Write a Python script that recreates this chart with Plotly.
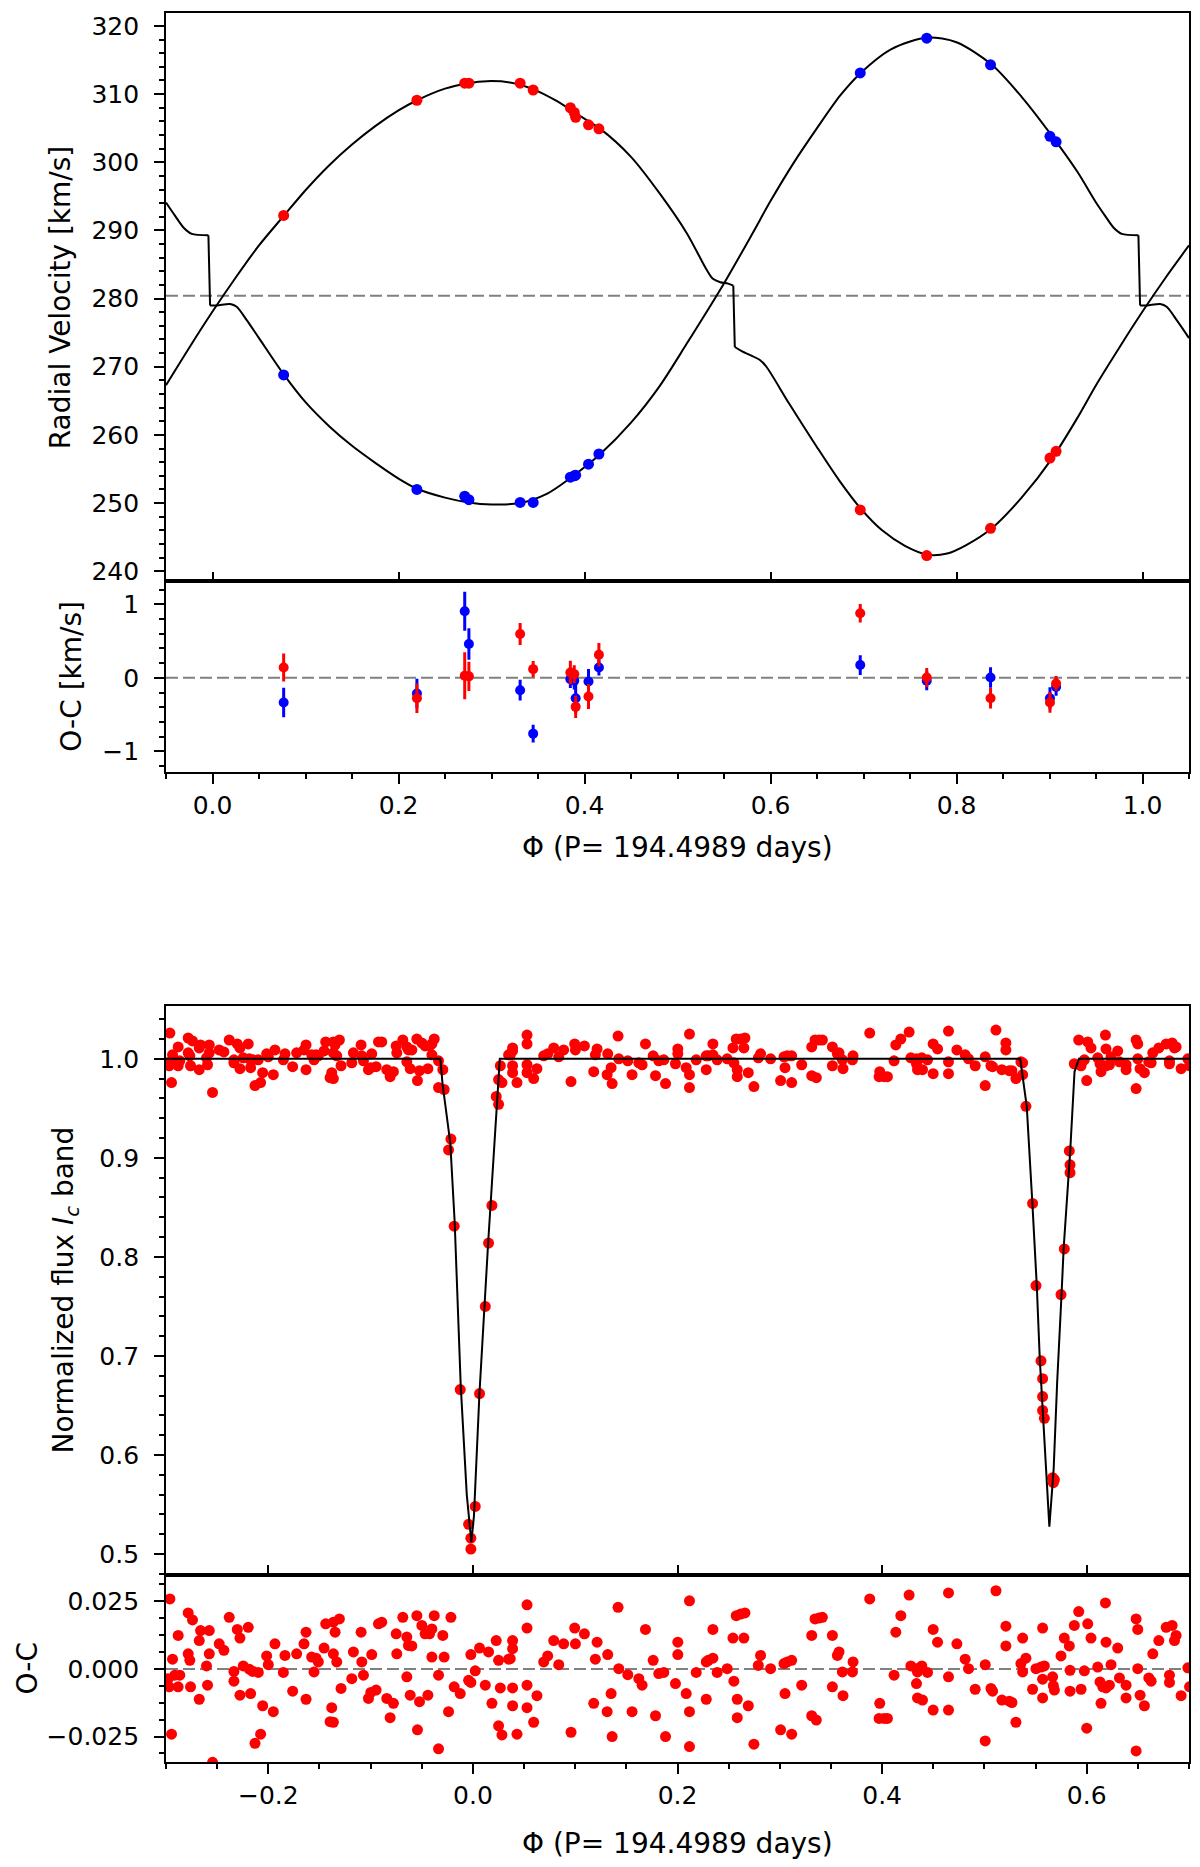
import plotly.graph_objects as go

# ---------------- radial velocities ----------------
rv_phase = [0.0765, 0.2198, 0.2712, 0.2757, 0.3308, 0.3448, 0.3848, 0.3890,
            0.3905, 0.4043, 0.4155, 0.6965, 0.7680, 0.8366, 0.9005, 0.9071]
rv_primary = [292.2, 309.1, 311.6, 311.6, 311.6, 310.6, 308.0, 307.3,
              306.6, 305.5, 304.9, 249.0, 242.3, 246.3, 256.6, 257.6]
rv_secondary = [268.8, 252.0, 251.0, 250.5, 250.1, 250.1, 253.8, 254.0,
                254.1, 255.7, 257.2, 313.1, 318.2, 314.3, 303.8, 303.0]

oc_primary = [0.141, -0.277, 0.027, 0.020, 0.595, 0.118, 0.073, 0.050,
              -0.395, -0.255, 0.314, 0.877, 0.005, -0.277, -0.336, -0.077]
oc_primary_err = [0.19, 0.20, 0.32, 0.20, 0.15, 0.11, 0.16, 0.12,
                  0.15, 0.17, 0.16, 0.125, 0.13, 0.14, 0.14, 0.10]
oc_secondary = [-0.336, -0.214, 0.905, 0.459, -0.168, -0.759, -0.018, -0.040,
                -0.277, -0.050, 0.141, 0.173, -0.040, 0.005, -0.277, -0.123]
oc_secondary_err = [0.20, 0.20, 0.265, 0.215, 0.14, 0.12, 0.12, 0.12,
                    0.20, 0.17, 0.11, 0.135, 0.13, 0.14, 0.15, 0.12]

gamma = 280.4

model_phase_primary = [-0.05, -0.025, 0.0, 0.025, 0.05, 0.077, 0.10, 0.125, 0.15, 0.175,
                       0.20, 0.22, 0.25, 0.275, 0.295, 0.32, 0.345, 0.37, 0.395, 0.417,
                       0.45, 0.481, 0.51, 0.531, 0.538, 0.546, 0.5545, 0.560, 0.5616, 0.569,
                       0.5886, 0.5956, 0.62, 0.65, 0.674, 0.697, 0.72, 0.745, 0.77, 0.79,
                       0.81, 0.838, 0.87, 0.903, 0.93, 0.95, 0.975, 1.0, 1.025, 1.05]
model_rv_primary = [267.3, 272.8, 278.1, 283.1, 287.8, 292.2, 295.9, 299.5, 302.6, 305.3,
                    307.6, 309.1, 310.8, 311.6, 311.9, 311.7, 310.7, 309.0, 306.8, 304.9,
                    300.8, 295.4, 289.6, 284.3, 282.9, 282.4, 282.2, 281.9, 272.9, 272.3,
                    271.0, 270.0, 264.6, 258.2, 253.3, 249.2, 246.0, 243.7, 242.4, 242.6,
                    243.8, 246.3, 250.8, 256.6, 262.5, 267.3, 272.8, 278.1, 283.1, 287.8]

model_phase_secondary = [-0.05, -0.04, -0.031, -0.0224, -0.0044, -0.0026, 0.005, 0.019, 0.026, 0.037,
                         0.05, 0.077, 0.10, 0.126, 0.15, 0.175, 0.20, 0.22, 0.25, 0.275,
                         0.30, 0.33, 0.36, 0.384, 0.417, 0.45, 0.481, 0.51, 0.549, 0.58,
                         0.60, 0.6244, 0.65, 0.675, 0.697, 0.73, 0.769, 0.80, 0.838, 0.87,
                         0.903, 0.93, 0.95, 0.96, 0.969, 0.9776, 0.9956, 0.9974, 1.005, 1.019,
                         1.026, 1.037, 1.05]
model_rv_secondary = [294.1, 292.1, 290.4, 289.5, 289.3, 279.0, 279.0, 279.2, 278.8, 276.8,
                      274.2, 268.8, 264.8, 261.2, 258.4, 255.9, 253.6, 252.1, 250.8, 250.1,
                      249.8, 250.0, 251.4, 253.6, 257.2, 261.8, 267.2, 273.4, 282.0, 289.4,
                      294.3, 299.8, 305.0, 309.8, 313.1, 316.6, 318.3, 317.6, 314.3, 309.6,
                      303.8, 298.6, 294.1, 292.1, 290.4, 289.5, 289.3, 279.0, 279.0, 279.2,
                      278.8, 276.8, 274.2]

# ---------------- Ic light curve ----------------
lc_phase = [
    -0.2962, -0.2936, -0.2979, -0.2969, -0.2881, -0.2865, -0.2914, -0.2946, -0.2881, -0.2783,
    -0.2767, -0.2783, -0.2741, -0.2675, -0.2662, -0.2577, -0.2577, -0.2604, -0.2594, -0.2760,
    -0.2675, -0.2545, -0.2480, -0.2434, -0.2382, -0.2336, -0.2336, -0.2303, -0.2277, -0.2196,
    -0.2245, -0.2186, -0.2098, -0.2153, -0.2277, -0.2173, -0.2130, -0.2075, -0.2055, -0.2016,
    -0.2000, -0.1935, -0.1951, -0.1853, -0.1837, -0.1762, -0.1723, -0.1651, -0.1631, -0.1631,
    -0.1576, -0.1553, -0.1533, -0.1511, -0.1455, -0.1439, -0.1364, -0.1305, -0.1347, -0.1380,
    -0.1396, -0.1364, -0.1364, -0.1331, -0.1289, -0.1184, -0.1168, -0.1093, -0.1086, -0.1070,
    -0.1021, -0.0998, -0.0946, -0.0989, -0.0923, -0.0891, -0.0842, -0.0777, -0.0809, -0.0750,
    -0.0744, -0.0685, -0.0646, -0.0630, -0.0597, -0.0646, -0.0613, -0.0548, -0.0499, -0.0467,
    -0.0424, -0.0401, -0.0542, -0.0522, -0.0440, -0.0401, -0.0378, -0.0294, -0.0281, -0.0336,
    -0.0336, -0.0238, -0.0215, -0.0183, -0.0124, -0.0042, -0.0020, -0.0020, 0.0023, 0.0065,
    0.0153, 0.0121, 0.0186, 0.0228, 0.0251, 0.0268, 0.0251, 0.0284, 0.0349, 0.0365,
    0.0388, 0.0388, 0.0388, 0.0388, 0.0431, 0.0529, 0.0529, 0.0529, 0.0529, 0.0594,
    0.0626, 0.0692, 0.0731, 0.0790, 0.0839, 0.0887, 0.0959, 0.0995, 0.1002, 0.1090,
    0.1181, 0.1197, 0.1214, 0.1312, 0.1318, 0.1351, 0.1361, 0.1419, 0.1426, 0.1514,
    0.1556, 0.1622, 0.1654, 0.1687, 0.1762, 0.1785, 0.1817, 0.1866, 0.1883, 0.1980,
    0.2003, 0.2003, 0.2117, 0.2183, 0.2085, 0.2117, 0.2117, 0.2281, 0.2300, 0.2346,
    0.2346, 0.2281, 0.2388, 0.2486, 0.2542, 0.2649, 0.2574, 0.2617, 0.2659, 0.2551,
    0.2584, 0.2584, 0.2692, 0.2747, 0.2790, 0.2812, 0.2910, 0.3008, 0.3041, 0.3073,
    0.3116, 0.3051, 0.3116, 0.3214, 0.3312, 0.3344, 0.3383, 0.3416, 0.3312, 0.3357,
    0.3514, 0.3563, 0.3579, 0.3514, 0.3612, 0.3710, 0.3716, 0.3618, 0.3879, 0.3977,
    0.3971, 0.4020, 0.4052, 0.4117, 0.4134, 0.4183, 0.4264, 0.4281, 0.4336, 0.4388,
    0.4444, 0.4346, 0.4336, 0.4346, 0.4395, 0.4499, 0.4542, 0.4499, 0.4649, 0.4649,
    0.4649, 0.4731, 0.4812, 0.4845, 0.4910, 0.5008, 0.5008, 0.5064, 0.5080, 0.5113,
    0.5171, 0.5243, 0.5269, 0.5210, 0.5210, 0.5308, 0.5357, 0.5374, 0.5406, 0.5374,
    0.5471, 0.5504, 0.5553, 0.5586, 0.5569, 0.5569, 0.5569, 0.5667, 0.5674, 0.5684,
    0.5749, 0.5781, 0.5830, 0.5837, 0.5837, 0.5879, 0.5922, 0.5945, 0.5977, 0.6000,
    0.6010, 0.6042, 0.6108, 0.6140, 0.6130, 0.6157, 0.6189, 0.6222, 0.6183, 0.6189,
    0.6238, 0.6303, 0.6320, 0.6385, 0.6385, 0.6483, 0.6499, 0.6483, 0.6499, 0.6522,
    0.6564, 0.6607, 0.6630, 0.6646, 0.6705, 0.6777, 0.6835, 0.6874, 0.6858, 0.6809,
    0.6809, 0.6923, 0.6989, 0.7005,
]
lc_flux = [
    1.026, 1.004, 0.996, 0.993, 0.993, 0.998, 0.998, 0.976, 1.012, 1.006,
    1.003, 1.021, 1.018, 1.011, 1.014, 1.014, 1.006, 1.001, 0.994, 0.993,
    0.989, 0.966, 1.009, 1.007, 1.019, 0.999, 0.996, 1.015, 1.011, 1.015,
    1.001, 1.000, 0.999, 0.999, 0.990, 0.991, 0.973, 0.976, 0.986, 1.005,
    1.002, 1.009, 0.984, 0.999, 1.005, 0.992, 1.006, 1.009, 1.014, 0.989,
    1.004, 0.999, 1.004, 1.003, 1.008, 1.017, 1.017, 1.019, 1.014, 0.986,
    0.981, 0.980, 1.006, 1.003, 0.993, 0.996, 1.006, 1.014, 1.003, 0.998,
    0.989, 0.991, 0.992, 1.005, 1.017, 1.017, 0.989, 0.987, 0.982, 1.013,
    1.006, 1.019, 1.012, 1.009, 1.009, 0.997, 0.990, 1.020, 1.016, 1.013,
    1.013, 1.015, 0.978, 0.988, 0.990, 1.004, 1.020, 0.989, 0.969, 0.998,
    0.971, 0.908, 0.919, 0.831, 0.666, 0.530, 0.505, 0.516, 0.548, 0.662,
    0.814, 0.750, 0.852, 0.962, 0.979, 0.993, 0.954, 0.976, 1.004, 1.004,
    1.011, 1.008, 0.993, 0.986, 0.976, 1.024, 1.015, 0.994, 0.986, 0.980,
    0.990, 1.003, 1.005, 1.011, 1.002, 1.009, 0.977, 1.015, 1.009, 1.013,
    0.987, 1.004, 1.010, 0.984, 1.005, 0.991, 0.975, 1.023, 1.000, 0.998,
    0.984, 0.996, 0.994, 1.015, 1.003, 0.983, 0.998, 0.999, 0.975, 0.995,
    1.010, 1.005, 1.025, 0.999, 0.991, 0.984, 0.971, 1.003, 1.003, 1.004,
    1.015, 0.989, 0.999, 1.000, 1.011, 1.011, 1.020, 1.020, 1.021, 0.996,
    0.989, 0.982, 0.986, 0.972, 1.001, 1.005, 1.000, 0.978, 1.002, 1.003,
    1.003, 0.991, 0.976, 0.994, 1.012, 1.019, 1.019, 1.019, 0.983, 0.981,
    1.012, 1.005, 1.006, 0.993, 0.999, 0.999, 1.003, 0.990, 1.026, 0.987,
    0.982, 0.982, 0.982, 0.998, 1.014, 1.020, 1.027, 1.001, 1.000, 1.001,
    0.999, 0.999, 0.995, 0.989, 0.989, 1.015, 1.010, 0.985, 1.028, 0.997,
    0.985, 1.009, 1.004, 1.000, 0.993, 1.002, 0.973, 0.993, 0.992, 1.029,
    0.989, 0.988, 0.988, 1.016, 1.009, 0.980, 0.997, 0.984, 0.952, 0.996,
    0.854, 0.771, 0.695, 0.637, 0.677, 0.659, 0.645, 0.577, 0.572, 0.575,
    0.762, 0.808, 0.907, 0.893, 0.885, 0.995, 1.019, 0.993, 0.999, 0.978,
    1.017, 1.011, 1.001, 0.987, 0.995, 0.993, 0.993, 0.994, 1.024, 1.010,
    1.002, 1.008, 0.997, 0.994, 0.989, 1.019, 1.015, 0.970, 1.000, 0.990,
    0.986, 0.997, 0.996, 1.006, 1.011, 1.015, 1.016, 1.012, 1.011, 0.998,
    0.995, 0.990, 1.000, 0.993,
]
lc_oc = [
    0.0259, 0.0036, -0.0036, -0.0066, -0.0066, -0.0023, -0.0023, -0.0241, 0.0124, 0.0056,
    0.0032, 0.0207, 0.0181, 0.0105, 0.0142, 0.0142, 0.0056, 0.0011, -0.0060, -0.0066,
    -0.0112, -0.0345, 0.0093, 0.0069, 0.0191, -0.0009, -0.0045, 0.0146, 0.0114, 0.0154,
    0.0011, -0.0001, -0.0013, -0.0009, -0.0097, -0.0091, -0.0275, -0.0241, -0.0136, 0.0048,
    0.0016, 0.0093, -0.0158, -0.0013, 0.0050, -0.0082, 0.0056, 0.0093, 0.0136, -0.0112,
    0.0044, -0.0011, 0.0040, 0.0026, 0.0077, 0.0167, 0.0173, 0.0185, 0.0136, -0.0143,
    -0.0195, -0.0197, 0.0056, 0.0026, -0.0072, -0.0036, 0.0063, 0.0136, 0.0026, -0.0023,
    -0.0109, -0.0087, -0.0078, 0.0053, 0.0167, 0.0173, -0.0109, -0.0127, -0.0180, 0.0130,
    0.0056, 0.0191, 0.0118, 0.0087, 0.0085, -0.0029, -0.0097, 0.0197, 0.0161, 0.0130,
    0.0130, 0.0148, -0.0225, -0.0121, -0.0097, 0.0044, 0.0197, 0.0124, 0.0044, -0.0023,
    -0.0295, -0.0158, 0.0191, -0.0066, -0.0091, -0.0042, -0.0050, 0.0053, -0.0007, 0.0077,
    0.0063, -0.0060, -0.0127, 0.0105, 0.0032, -0.0070, -0.0210, -0.0244, 0.0036, 0.0038,
    0.0105, 0.0075, -0.0070, -0.0136, -0.0241, 0.0237, 0.0151, -0.0060, -0.0143, -0.0197,
    -0.0099, 0.0026, 0.0048, 0.0105, 0.0016, 0.0093, -0.0234, 0.0151, 0.0093, 0.0130,
    -0.0127, 0.0036, 0.0099, -0.0158, 0.0053, -0.0091, -0.0250, 0.0228, 0.0001, -0.0021,
    -0.0158, -0.0036, -0.0060, 0.0146, 0.0032, -0.0173, -0.0017, -0.0013, -0.0250, -0.0054,
    0.0099, 0.0053, 0.0252, -0.0013, -0.0091, -0.0158, -0.0287, 0.0026, 0.0032, 0.0040,
    0.0146, -0.0112, -0.0013, 0.0001, 0.0114, 0.0114, 0.0197, 0.0203, 0.0207, -0.0045,
    -0.0112, -0.0180, -0.0136, -0.0278, 0.0013, 0.0050, 0.0001, -0.0225, 0.0020, 0.0026,
    0.0032, -0.0091, -0.0241, -0.0060, 0.0124, 0.0185, 0.0188, 0.0191, -0.0173, -0.0189,
    0.0124, 0.0050, 0.0063, -0.0066, -0.0011, -0.0011, 0.0026, -0.0099, 0.0259, -0.0127,
    -0.0183, -0.0183, -0.0183, -0.0023, 0.0136, 0.0197, 0.0273, 0.0011, 0.0001, 0.0011,
    -0.0013, -0.0011, -0.0054, -0.0107, -0.0115, 0.0146, 0.0099, -0.0152, 0.0281, -0.0029,
    -0.0152, 0.0093, 0.0036, 0.0001, -0.0075, 0.0016, -0.0266, -0.0072, -0.0082, 0.0289,
    -0.0115, -0.0119, -0.0124, 0.0158, 0.0085, -0.0197, 0.0020, -0.0011, 0.0040, 0.0114,
    -0.0075, 0.0001, 0.0007, 0.0011, 0.0151, -0.0038, -0.0107, -0.0029, -0.0062, -0.0078,
    0.0048, 0.0114, 0.0085, -0.0005, -0.0082, 0.0161, 0.0212, -0.0075, -0.0007, -0.0219,
    0.0167, 0.0114, 0.0007, -0.0127, -0.0048, -0.0066, -0.0070, -0.0060, 0.0244, 0.0099,
    0.0016, 0.0077, -0.0033, -0.0060, -0.0107, 0.0185, 0.0146, -0.0303, 0.0001, -0.0097,
    -0.0136, -0.0033, -0.0045, 0.0056, 0.0105, 0.0154, 0.0161, 0.0124, 0.0105, -0.0023,
    -0.0050, -0.0099, 0.0004, -0.0066,
]
assert len(lc_phase) == len(lc_flux) == len(lc_oc), (len(lc_phase), len(lc_flux), len(lc_oc))

lc_model_phase = [-0.30, -0.0318, -0.0297, -0.0270, -0.0221, -0.0178, -0.0119, -0.0060, -0.0015,
                  0.0010, 0.0064, 0.0149, 0.0190, 0.0234, 0.0263, 0.5350, 0.5414, 0.5469,
                  0.5512, 0.5541, 0.5584, 0.5635, 0.5677, 0.5711, 0.5754, 0.5775, 0.5839,
                  0.5881, 0.5924, 0.70]
lc_model_flux = [1.000, 1.000, 0.975, 0.952, 0.915, 0.835, 0.670, 0.560, 0.512,
                 0.538, 0.662, 0.814, 0.885, 0.950, 1.000, 1.000, 0.952, 0.854,
                 0.771, 0.698, 0.621, 0.5275, 0.586, 0.673, 0.762, 0.809, 0.907,
                 0.987, 1.000, 1.000]

FONT = "DejaVu Sans"
W, H = 1200, 1867
OFF = 8  # the page body margin shifts the figure by this many pixels
RED = "#ff0000"
BLUE = "#0000ff"
XDOM = [(166 - OFF) / W, (1189 - OFF) / W]


def ydom(top_px, bottom_px):
    return [1 - (bottom_px - OFF) / H, 1 - (top_px - OFF) / H]


def axis(**kw):
    base = dict(showline=True, linecolor="black", linewidth=1.8, mirror=True,
                showgrid=False, zeroline=False, ticks="outside", ticklen=10,
                tickwidth=1.5, tickcolor="black",
                tickfont=dict(family=FONT, size=25, color="black"))
    base.update(kw)
    return base


def minor(step):
    return dict(dtick=step, ticks="outside", ticklen=5, tickwidth=1.5,
                tickcolor="black", showgrid=False)


def add_model(fig, xs, ys, xa, ya):
    # smooth pieces joined by the near-vertical jumps of the model
    piece = [0]
    for i in range(1, len(xs)):
        if xs[i] - xs[i - 1] < 0.003:
            fig.add_trace(go.Scatter(x=[xs[j] for j in piece], y=[ys[j] for j in piece],
                                     mode="lines", line=dict(color="black", width=2,
                                                             shape="spline", smoothing=0.8),
                                     xaxis=xa, yaxis=ya))
            fig.add_trace(go.Scatter(x=[xs[i - 1], xs[i]], y=[ys[i - 1], ys[i]],
                                     mode="lines", line=dict(color="black", width=2),
                                     xaxis=xa, yaxis=ya))
            piece = [i]
        else:
            piece.append(i)
    fig.add_trace(go.Scatter(x=[xs[j] for j in piece], y=[ys[j] for j in piece],
                             mode="lines", line=dict(color="black", width=2,
                                                     shape="spline", smoothing=0.8),
                             xaxis=xa, yaxis=ya))


fig = go.Figure()

# RV panel
add_model(fig, model_phase_primary, model_rv_primary, "x", "y")
add_model(fig, model_phase_secondary, model_rv_secondary, "x", "y")
fig.add_trace(go.Scatter(x=rv_phase, y=rv_secondary, mode="markers",
                         marker=dict(color=BLUE, size=11), xaxis="x", yaxis="y"))
fig.add_trace(go.Scatter(x=rv_phase, y=rv_primary, mode="markers",
                         marker=dict(color=RED, size=11), xaxis="x", yaxis="y"))

# RV residuals
fig.add_trace(go.Scatter(x=rv_phase, y=oc_secondary, mode="markers",
                         marker=dict(color=BLUE, size=10),
                         error_y=dict(type="data", array=oc_secondary_err, color=BLUE,
                                      thickness=3, width=0),
                         xaxis="x2", yaxis="y2"))
fig.add_trace(go.Scatter(x=rv_phase, y=oc_primary, mode="markers",
                         marker=dict(color=RED, size=10),
                         error_y=dict(type="data", array=oc_primary_err, color=RED,
                                      thickness=3, width=0),
                         xaxis="x2", yaxis="y2"))

# light curve
fig.add_trace(go.Scatter(x=lc_phase, y=lc_flux, mode="markers",
                         marker=dict(color=RED, size=11), xaxis="x3", yaxis="y3"))
fig.add_trace(go.Scatter(x=lc_model_phase, y=lc_model_flux, mode="lines",
                         line=dict(color="black", width=2), xaxis="x3", yaxis="y3"))

# light-curve residuals
fig.add_trace(go.Scatter(x=lc_phase, y=lc_oc, mode="markers",
                         marker=dict(color=RED, size=11), xaxis="x4", yaxis="y4"))

dash = dict(color="#808080", width=2, dash="12px,5px")
fig.add_shape(type="line", xref="x domain", yref="y", x0=0, x1=1, y0=gamma, y1=gamma,
              line=dash, layer="below")
fig.add_shape(type="line", xref="x2 domain", yref="y2", x0=0, x1=1, y0=0, y1=0,
              line=dash, layer="below")
fig.add_shape(type="line", xref="x4 domain", yref="y4", x0=0, x1=1, y0=0, y1=0,
              line=dash, layer="below")

fig.update_layout(
    width=W, height=H, autosize=False, showlegend=False,
    margin=dict(l=0, r=0, t=0, b=0),
    paper_bgcolor="white", plot_bgcolor="white",
    font=dict(family=FONT, size=25, color="black"),
    xaxis=axis(domain=XDOM, anchor="y", range=[-0.05, 1.05], tick0=0, dtick=0.2,
               ticks="inside", showticklabels=False),
    yaxis=axis(domain=ydom(12, 582), anchor="x", range=[238.5, 321.9], tick0=0,
               dtick=10, minor=minor(2), ticklabelstandoff=10),
    xaxis2=axis(domain=XDOM, anchor="y2", range=[-0.05, 1.05], tick0=0, dtick=0.2,
                tickformat=".1f", minor=minor(0.05)),
    yaxis2=axis(domain=ydom(582, 773), anchor="x2", range=[-1.28, 1.31], tick0=0,
                dtick=1, minor=minor(0.2), ticklabelstandoff=10),
    xaxis3=axis(domain=XDOM, anchor="y3", range=[-0.3, 0.7], tick0=0, dtick=0.2,
                ticks="inside", showticklabels=False),
    yaxis3=axis(domain=ydom(1008, 1578), anchor="x3", range=[0.479, 1.053], tick0=0,
                dtick=0.1, tickformat=".1f", minor=minor(0.02), ticklabelstandoff=10),
    xaxis4=axis(domain=XDOM, anchor="y4", range=[-0.3, 0.7], tick0=0, dtick=0.2,
                tickformat=".1f", minor=minor(0.05)),
    yaxis4=axis(domain=ydom(1578, 1766), anchor="x4", range=[-0.0345, 0.0348], tick0=0,
                dtick=0.025, tickformat=".3f", minor=minor(0.00625), ticklabelstandoff=10),
)

title_font = dict(family=FONT, size=28, color="black")
labels = [
    ("Radial Velocity [km/s]", 60, (12 + 582) / 2, -90),
    ("O-C [km/s]", 72, (582 + 773) / 2, -90),
    ("Normalized flux <i>I</i><sub><i>c</i></sub> band", 66, (1008 + 1578) / 2, -90),
    ("O-C", 28, (1578 + 1766) / 2, -90),
    ("Φ (P= 194.4989 days)", 677, 849, 0),
    ("Φ (P= 194.4989 days)", 677, 1847, 0),
]
for text, px, py, angle in labels:
    fig.add_annotation(text=text, xref="paper", yref="paper",
                       x=(px - OFF) / W, y=1 - (py - OFF) / H,
                       xanchor="center", yanchor="middle", showarrow=False,
                       textangle=angle, font=title_font)

fig.write_html("out.html")
